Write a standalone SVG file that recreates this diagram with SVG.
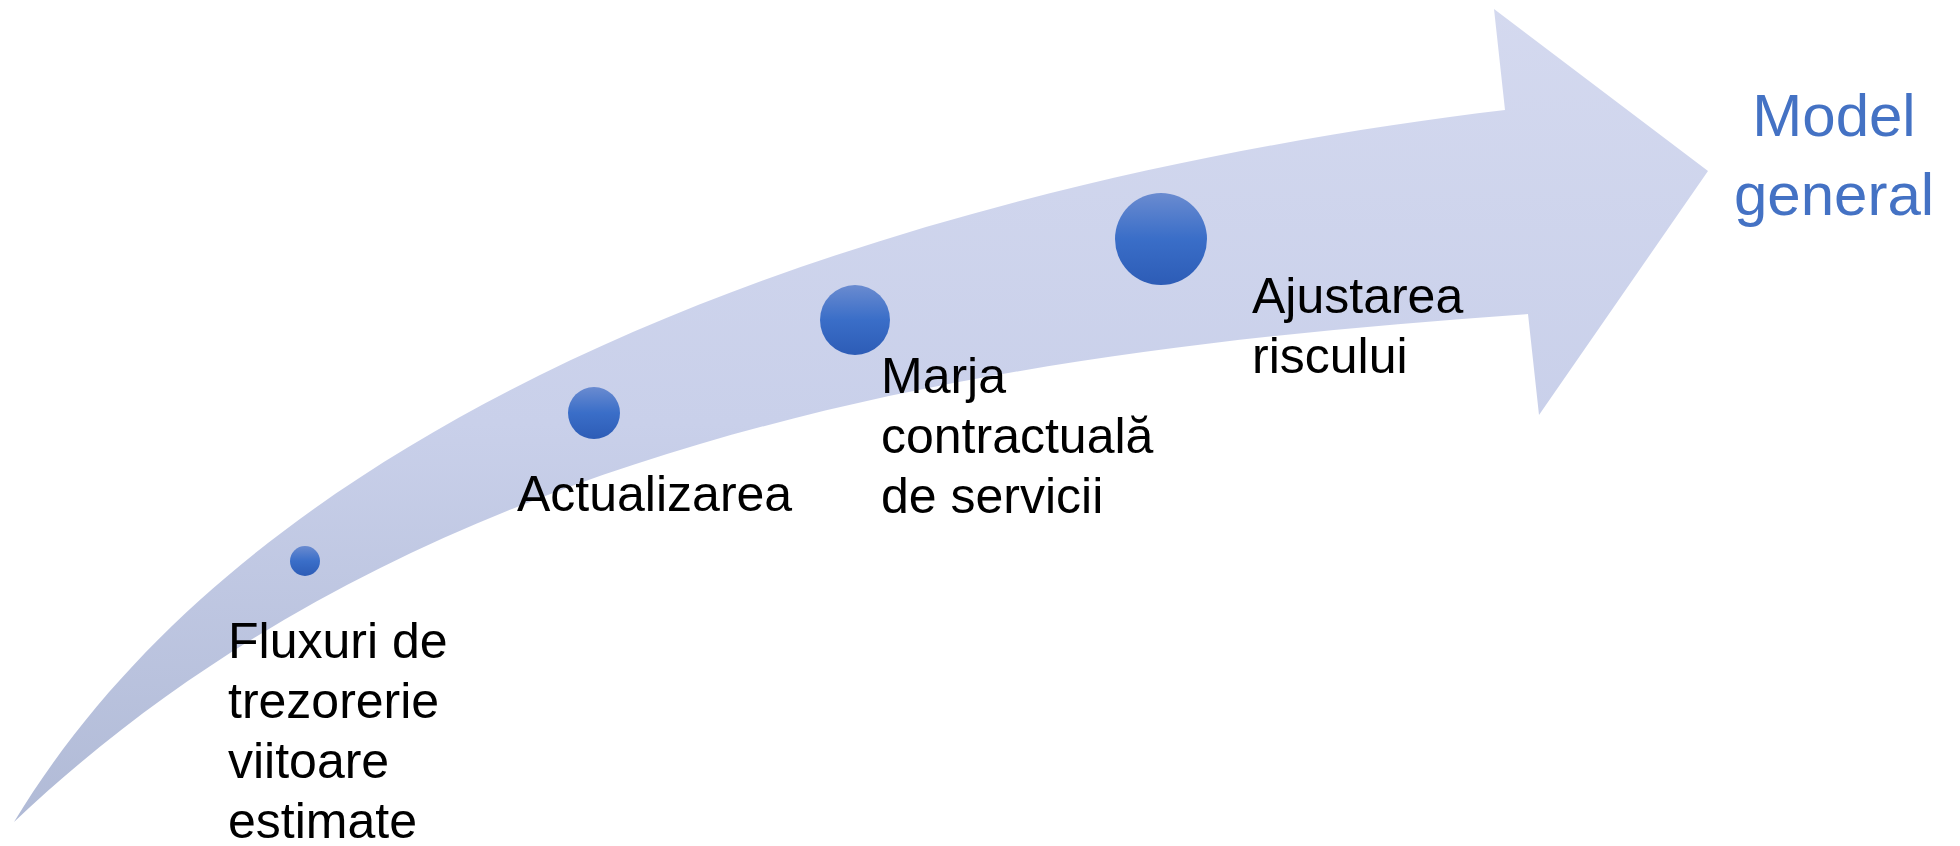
<svg xmlns="http://www.w3.org/2000/svg" width="1960" height="846" viewBox="0 0 1960 846">
  <defs>
    <linearGradient id="bandGrad" gradientUnits="userSpaceOnUse" x1="0" y1="0" x2="0" y2="846">
      <stop offset="0" stop-color="#D4D9EF"/>
      <stop offset="0.5" stop-color="#C9D0EA"/>
      <stop offset="1" stop-color="#AFB9D5"/>
    </linearGradient>
    <linearGradient id="dotGrad" x1="0" y1="0" x2="0" y2="1">
      <stop offset="0" stop-color="#6A8BD0"/>
      <stop offset="0.5" stop-color="#3A6EC8"/>
      <stop offset="1" stop-color="#2D5CB6"/>
    </linearGradient>
  </defs>
  <style>
    .dot { fill: url(#dotGrad); }
    .lbl { font-family: "Liberation Sans", Arial, sans-serif; font-size: 50px; fill: #000000; }
    .title { font-family: "Liberation Sans", Arial, sans-serif; font-size: 60px; fill: #4472C4; text-anchor: middle; }
  </style>
  <rect x="0" y="0" width="1960" height="846" fill="#FFFFFF"/>
  <g id="arrow">
    <path d="M 14,822 C 308,336 1055,164 1505,110 L 1494,9 L 1708,171 L 1539,415 L 1528,314 C 977,352 414.7,442 14,822 Z" fill="url(#bandGrad)"/>
  </g>
  <g id="node-fluxuri">
    <circle class="dot" cx="305" cy="561" r="15"/>
    <text class="lbl" x="228" y="658">Fluxuri de</text>
    <text class="lbl" x="228" y="718">trezorerie</text>
    <text class="lbl" x="228" y="778">viitoare</text>
    <text class="lbl" x="228" y="838">estimate</text>
  </g>
  <g id="node-actualizarea">
    <circle class="dot" cx="594" cy="413" r="26"/>
    <text class="lbl" x="517" y="511">Actualizarea</text>
  </g>
  <g id="node-marja">
    <circle class="dot" cx="855" cy="320" r="35"/>
    <text class="lbl" x="881" y="393">Marja</text>
    <text class="lbl" x="881" y="453">contractuală</text>
    <text class="lbl" x="881" y="513">de servicii</text>
  </g>
  <g id="node-ajustarea">
    <circle class="dot" cx="1161" cy="239" r="46"/>
    <text class="lbl" x="1252" y="313">Ajustarea</text>
    <text class="lbl" x="1252" y="373">riscului</text>
  </g>
  <g id="node-model">
    <text class="title" x="1834" y="136">Model</text>
    <text class="title" x="1834" y="215">general</text>
  </g>
  <g id="connectors"></g>
</svg>
